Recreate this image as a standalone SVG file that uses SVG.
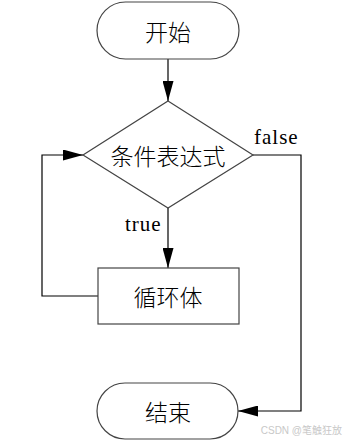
<svg xmlns="http://www.w3.org/2000/svg" width="344" height="443" viewBox="0 0 344 443">
<defs>
<style>
.shape{fill:#fff;stroke:#444;stroke-width:1.2}
.line{fill:none;stroke:#000;stroke-width:1.2}
.cjk{font-family:"Noto Sans CJK SC","Liberation Serif",serif;font-size:23px;font-weight:300;fill:#000;text-anchor:middle;dominant-baseline:central}
.lbl{font-family:"Liberation Serif",serif;font-size:21px;fill:#000}
</style>
<marker id="arr" markerWidth="20" markerHeight="11" refX="20" refY="5.5" orient="auto" markerUnits="userSpaceOnUse">
<path d="M0,0 L20,5.5 L0,11 Z" fill="#000"/>
</marker>
</defs>
<rect width="344" height="443" fill="#fff"/>
<g id="connectors">
<line class="line" x1="168" y1="59" x2="168" y2="101" marker-end="url(#arr)"/>
<line class="line" x1="168" y1="208" x2="168" y2="268" marker-end="url(#arr)"/>
<polyline class="line" points="98,296 42,296 42,155 83,155" marker-end="url(#arr)"/>
<polyline class="line" points="253,155 301,155 301,411 238,411" marker-end="url(#arr)"/>
<text class="lbl" x="254" y="144" letter-spacing="1">false</text>
<text class="lbl" x="125" y="231" letter-spacing="1">true</text>
</g>
<g id="start">
<rect class="shape" x="97" y="2" width="142" height="57" rx="28.5"/>
<text class="cjk" x="168" y="31">开始</text>
</g>
<g id="condition">
<polygon class="shape" points="168,101 253,155 168,208 83,155"/>
<text class="cjk" x="168" y="155">条件表达式</text>
</g>
<g id="body">
<rect class="shape" x="98" y="268" width="141" height="56"/>
<text class="cjk" x="168" y="296">循环体</text>
</g>
<g id="end">
<rect class="shape" x="97" y="383" width="141" height="56" rx="28"/>
<text class="cjk" x="168" y="411">结束</text>
</g>
<text x="342" y="434" text-anchor="end" font-family="Liberation Sans,Noto Sans CJK SC,sans-serif" font-size="10" fill="#c8c8c8">CSDN @笔触狂放</text>
</svg>
